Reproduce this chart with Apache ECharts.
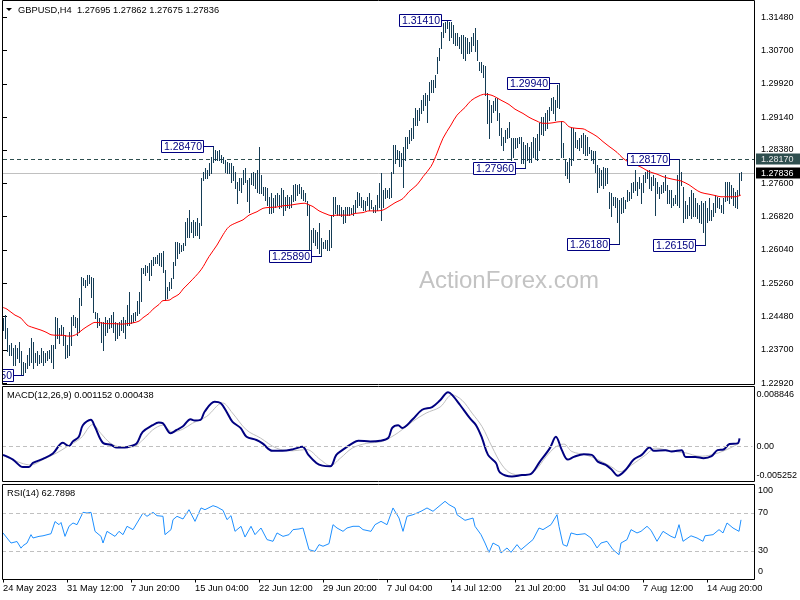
<!DOCTYPE html>
<html><head><meta charset="utf-8">
<script src="https://cdn.jsdelivr.net/npm/echarts@6/dist/echarts.min.js"></script>
<style>html,body{margin:0;padding:0;background:#fff}#c{width:800px;height:600px}</style>
</head><body><div id="c"></div>
<script>
// ---------------- DATA ----------------
const symbolTitle = 'GBPUSD,H4  1.27695 1.27862 1.27675 1.27836';
const macdTitle = 'MACD(12,26,9) 0.001152 0.000438';
const rsiTitle = 'RSI(14) 62.7898';
const watermark = 'ActionForex.com';

const highs = [
1.2444,1.2451,1.2420,1.2381,1.2385,1.2373,1.2381,1.2373,1.2389,1.2366,
1.2342,1.2338,1.2358,1.2373,1.2397,1.2389,1.2362,1.2366,1.2358,1.2373,
1.2366,1.2362,1.2366,1.2370,1.2381,1.2381,1.2447,1.2444,1.2420,1.2428,
1.2424,1.2405,1.2381,1.2412,1.2447,1.2451,1.2447,1.2444,1.2490,1.2541,
1.2537,1.2533,1.2545,1.2545,1.2541,1.2537,1.2459,1.2455,1.2444,1.2436,
1.2436,1.2447,1.2440,1.2444,1.2451,1.2459,1.2436,1.2432,1.2436,1.2440,
1.2447,1.2440,1.2475,1.2506,1.2451,1.2455,1.2459,1.2483,1.2506,1.2561,
1.2561,1.2568,1.2565,1.2572,1.2580,1.2588,1.2588,1.2592,1.2596,1.2596,
1.2600,1.2557,1.2518,1.2529,1.2537,1.2576,1.2623,1.2623,1.2619,1.2615,
1.2619,1.2670,1.2678,1.2697,1.2670,1.2674,1.2670,1.2678,1.2666,1.2771,
1.2787,1.2795,1.2791,1.2806,1.2822,1.2847,1.2838,1.2834,1.2838,1.2826,
1.2822,1.2814,1.2810,1.2806,1.2806,1.2799,1.2787,1.2763,1.2771,1.2771,
1.2791,1.2795,1.2767,1.2771,1.2783,1.2787,1.2783,1.2791,1.2845,1.2779,
1.2752,1.2752,1.2748,1.2728,1.2736,1.2724,1.2732,1.2736,1.2732,1.2748,
1.2744,1.2728,1.2732,1.2728,1.2732,1.2756,1.2759,1.2756,1.2759,1.2752,
1.2744,1.2736,1.2717,1.2709,1.2650,1.2654,1.2650,1.2646,1.2666,1.2631,
1.2623,1.2627,1.2627,1.2650,1.2685,1.2728,1.2728,1.2709,1.2709,1.2705,
1.2697,1.2705,1.2705,1.2705,1.2701,1.2709,1.2721,1.2740,1.2736,1.2728,
1.2721,1.2717,1.2728,1.2736,1.2721,1.2705,1.2709,1.2732,1.2760,1.2783,
1.2744,1.2748,1.2744,1.2748,1.2787,1.2849,1.2849,1.2838,1.2834,1.2830,
1.2845,1.2869,1.2869,1.2884,1.2888,1.2912,1.2935,1.2931,1.2935,1.2954,
1.2966,1.2970,1.2966,1.2997,1.3001,1.3001,1.3013,1.3056,1.3075,1.3114,
1.3134,1.3138,1.3141,1.3138,1.3138,1.3130,1.3111,1.3111,1.3103,1.3107,
1.3107,1.3103,1.3099,1.3091,1.3103,1.3111,1.3122,1.3095,1.3044,1.3044,
1.3036,1.3033,1.2970,1.2954,1.2943,1.2951,1.2958,1.2958,1.2923,1.2888,
1.2869,1.2884,1.2888,1.2904,1.2865,1.2865,1.2865,1.2865,1.2869,1.2869,
1.2857,1.2849,1.2853,1.2845,1.2857,1.2869,1.2865,1.2876,1.2900,1.2915,
1.2915,1.2923,1.2931,1.2939,1.2958,1.2962,1.2954,1.2990,1.2994,1.2906,
1.2853,1.2814,1.2810,1.2818,1.2888,1.2888,1.2880,1.2861,1.2865,1.2873,
1.2877,1.2873,1.2869,1.2845,1.2838,1.2834,1.2834,1.2802,1.2795,1.2791,
1.2798,1.2795,1.2795,1.2740,1.2736,1.2728,1.2728,1.2724,1.2720,1.2724,
1.2728,1.2720,1.2744,1.2740,1.2760,1.2763,1.2791,1.2763,1.2775,1.2760,
1.2779,1.2787,1.2791,1.2791,1.2775,1.2779,1.2771,1.2763,1.2752,1.2756,
1.2763,1.2779,1.2756,1.2744,1.2744,1.2724,1.2732,1.2779,1.2817,1.2787,
1.2752,1.2717,1.2709,1.2728,1.2744,1.2736,1.2724,1.2713,1.2709,1.2717,
1.2713,1.2717,1.2701,1.2724,1.2697,1.2713,1.2732,1.2728,1.2724,1.2709,
1.2724,1.2763,1.2763,1.2763,1.2756,1.2748,1.2740,1.2744,1.2783,1.27862
];
const lows = [
1.2417,1.2397,1.2366,1.2358,1.2358,1.2334,1.2334,1.2350,1.2342,1.2311,
1.2311,1.2319,1.2327,1.2334,1.2342,1.2327,1.2342,1.2334,1.2338,1.2342,
1.2334,1.2342,1.2346,1.2350,1.2342,1.2327,1.2373,1.2397,1.2385,1.2405,
1.2381,1.2350,1.2354,1.2358,1.2381,1.2428,1.2424,1.2405,1.2412,1.2475,
1.2522,1.2518,1.2522,1.2526,1.2494,1.2459,1.2444,1.2424,1.2428,1.2389,
1.2370,1.2405,1.2412,1.2420,1.2424,1.2412,1.2393,1.2397,1.2405,1.2416,
1.2412,1.2397,1.2428,1.2428,1.2432,1.2436,1.2440,1.2451,1.2455,1.2483,
1.2549,1.2545,1.2553,1.2533,1.2545,1.2568,1.2572,1.2572,1.2568,1.2565,
1.2553,1.2487,1.2490,1.2510,1.2514,1.2537,1.2568,1.2584,1.2596,1.2600,
1.2604,1.2615,1.2635,1.2635,1.2646,1.2635,1.2639,1.2639,1.2631,1.2662,
1.2767,1.2771,1.2771,1.2779,1.2783,1.2810,1.2814,1.2814,1.2814,1.2810,
1.2806,1.2787,1.2783,1.2783,1.2763,1.2767,1.2748,1.2713,1.2744,1.2740,
1.2759,1.2763,1.2717,1.2693,1.2759,1.2756,1.2748,1.2740,1.2736,1.2736,
1.2732,1.2721,1.2709,1.2689,1.2689,1.2693,1.2705,1.2709,1.2701,1.2705,
1.2685,1.2697,1.2705,1.2701,1.2705,1.2717,1.2721,1.2732,1.2736,1.2724,
1.2721,1.2717,1.2685,1.2604,1.2604,1.2623,1.2615,1.2607,1.2596,1.2589,
1.2607,1.2607,1.2604,1.2604,1.2611,1.2682,1.2689,1.2685,1.2685,1.2682,
1.2666,1.2670,1.2685,1.2685,1.2689,1.2685,1.2693,1.2705,1.2709,1.2705,
1.2697,1.2697,1.2709,1.2697,1.2701,1.2693,1.2693,1.2697,1.2705,1.2674,
1.2705,1.2724,1.2728,1.2724,1.2728,1.2783,1.2806,1.2818,1.2799,1.2799,
1.2752,1.2814,1.2841,1.2853,1.2861,1.2865,1.2896,1.2896,1.2908,1.2923,
1.2931,1.2943,1.2904,1.2954,1.2974,1.2974,1.2986,1.3017,1.3048,1.3075,
1.3103,1.3114,1.3122,1.3095,1.3103,1.3087,1.3083,1.3083,1.3075,1.3064,
1.3052,1.3048,1.3064,1.3064,1.3068,1.3083,1.3068,1.3048,1.3025,1.3021,
1.3009,1.2966,1.2900,1.2865,1.2904,1.2927,1.2931,1.2908,1.2873,1.2849,
1.2838,1.2857,1.2865,1.2869,1.2814,1.2822,1.2841,1.2845,1.2853,1.2806,
1.2806,1.2796,1.2814,1.2810,1.2810,1.2822,1.2818,1.2814,1.2838,1.2876,
1.2873,1.2884,1.2888,1.2908,1.2931,1.2923,1.2908,1.2939,1.2935,1.2822,
1.2822,1.2779,1.2771,1.2763,1.2802,1.2814,1.2845,1.2841,1.2838,1.2845,
1.2830,1.2826,1.2826,1.2830,1.2814,1.2806,1.2787,1.2740,1.2752,1.2756,
1.2748,1.2756,1.2760,1.2701,1.2682,1.2709,1.2705,1.2670,1.2618,1.2689,
1.2693,1.2701,1.2717,1.2720,1.2724,1.2740,1.2744,1.2732,1.2748,1.2713,
1.2740,1.2763,1.2771,1.2748,1.2744,1.2756,1.2685,1.2736,1.2724,1.2736,
1.2740,1.2744,1.2713,1.2713,1.2705,1.2709,1.2713,1.2709,1.2705,1.2756,
1.2670,1.2678,1.2678,1.2685,1.2678,1.2682,1.2682,1.2678,1.2670,1.2666,
1.2646,1.2615,1.2670,1.2674,1.2674,1.2682,1.2693,1.2705,1.2701,1.2693,
1.2689,1.2717,1.2720,1.2713,1.2724,1.2709,1.2705,1.2701,1.2732,1.27675
];

// moving average (red), sampled [barIndex, value]
const smaPts = [
[0,1.2469],[2,1.2465],[6,1.2451],[9,1.2444],[12,1.2428],[15,1.2422],[19,1.2416],[22,1.2410],[24,1.2405],[27,1.2404],
[30,1.2404],[32,1.2402],[34,1.2402],[37,1.2407],[40,1.2418],[44,1.2430],[46,1.2434],[49,1.2433],[52,1.2431],[56,1.2431],
[59,1.2430],[62,1.2431],[65,1.2433],[68,1.2437],[70,1.2445],[73,1.2455],[75,1.2465],[78,1.2476],[80,1.2485],[83,1.2486],
[85,1.2492],[88,1.2500],[90,1.2512],[93,1.2526],[99,1.2557],[103,1.2588],[107,1.2615],[110,1.2639],[113,1.2658],[117,1.2668],
[120,1.2674],[123,1.2685],[127,1.2693],[130,1.2701],[133,1.2703],[137,1.2704],[140,1.2707],[143,1.2708],[147,1.2711],[151,1.2713],
[152,1.2711],[155,1.2705],[158,1.2695],[162,1.2687],[164,1.2684],[167,1.2685],[170,1.2685],[173,1.2685],[176,1.2689],[180,1.2691],
[183,1.2695],[186,1.2695],[190,1.2697],[193,1.2705],[196,1.2714],[200,1.2724],[203,1.2740],[207,1.2756],[210,1.2775],[214,1.2799],
[217,1.2830],[220,1.2865],[224,1.2896],[227,1.2919],[231,1.2937],[234,1.2953],[238,1.2964],[241,1.2968],[244,1.2966],[246,1.2962],
[249,1.2954],[253,1.2944],[256,1.2933],[260,1.2923],[263,1.2914],[267,1.2905],[270,1.2900],[273,1.2900],[277,1.2903],[280,1.2904],
[283,1.2892],[287,1.2888],[290,1.2887],[293,1.2880],[297,1.2869],[300,1.2857],[303,1.2846],[307,1.2832],[310,1.2818],[313,1.2809],
[317,1.2802],[320,1.2795],[323,1.2787],[327,1.2781],[330,1.2775],[333,1.2771],[337,1.2767],[339,1.2765],[343,1.2756],[346,1.2746],
[349,1.2738],[353,1.2734],[356,1.2731],[359,1.2728],[363,1.2728],[366,1.2728],[369,1.2732]
];

const macdPts = [
[0,-0.0013],[5,-0.0020],[10,-0.0031],[13,-0.0031],[15,-0.0025],[20,-0.0019],[25,-0.0011],[30,0.0005],[33,0.0000],[35,0.0007],
[38,0.0014],[40,0.0031],[44,0.0039],[46,0.0029],[50,0.0005],[54,0.0002],[57,-0.0002],[61,-0.0002],[65,0.0001],[67,0.0004],
[70,0.0021],[75,0.0031],[78,0.0035],[80,0.0034],[84,0.0019],[87,0.0024],[90,0.0029],[94,0.0040],[96,0.0038],[99,0.0039],
[101,0.0051],[106,0.0066],[109,0.0064],[112,0.0051],[115,0.0036],[119,0.0027],[122,0.0014],[127,0.0009],[130,0.0004],[135,-0.0007],
[140,-0.0007],[145,-0.0005],[150,-0.0001],[153,-0.0013],[157,-0.0025],[160,-0.0029],[164,-0.0030],[167,-0.0013],[170,-0.0006],[175,0.0004],
[178,0.0008],[184,0.0007],[189,0.0008],[193,0.0012],[195,0.0027],[198,0.0031],[200,0.0027],[205,0.0039],[210,0.0054],[215,0.0058],
[219,0.0068],[223,0.0080],[225,0.0076],[229,0.0061],[234,0.0041],[237,0.0031],[240,0.0012],[243,-0.0013],[247,-0.0025],[249,-0.0039],
[255,-0.0045],[260,-0.0043],[264,-0.0042],[269,-0.0023],[274,-0.0003],[277,0.0014],[280,-0.0006],[283,-0.0020],[286,-0.0016],[291,-0.0012],
[295,-0.0013],[298,-0.0023],[302,-0.0028],[305,-0.0035],[308,-0.0044],[312,-0.0035],[316,-0.0020],[320,-0.0013],[324,-0.0002],[326,-0.0007],
[332,-0.0006],[335,-0.0008],[340,-0.0006],[342,-0.0016],[347,-0.0016],[351,-0.0018],[355,-0.0015],[358,-0.0006],[361,-0.0005],[364,0.0003],
[368,0.0004],[369,0.001152]
];
const signalPts = [
[0,-0.0014],[9,-0.0025],[14,-0.0028],[20,-0.0020],[27,-0.0010],[32,-0.0001],[39,0.0012],[45,0.0032],[49,0.0019],[54,0.0004],
[59,-0.0001],[65,-0.0001],[70,0.0009],[75,0.0024],[80,0.0031],[85,0.0021],[90,0.0025],[95,0.0034],[102,0.0044],[110,0.0064],
[115,0.0049],[122,0.0024],[129,0.0012],[137,-0.0003],[145,-0.0007],[152,-0.0005],[159,-0.0020],[164,-0.0029],[169,-0.0018],[175,-0.0003],
[182,0.0004],[190,0.0007],[198,0.0020],[205,0.0036],[212,0.0049],[219,0.0058],[225,0.0076],[230,0.0068],[235,0.0049],[240,0.0029],
[245,-0.0001],[250,-0.0028],[255,-0.0041],[262,-0.0043],[267,-0.0035],[272,-0.0016],[277,-0.0001],[281,0.0003],[285,-0.0008],[292,-0.0013],
[298,-0.0020],[305,-0.0031],[309,-0.0038],[315,-0.0028],[322,-0.0013],[327,-0.0003],[334,-0.0007],[342,-0.0010],[349,-0.0015],[355,-0.0013],
[362,-0.0006],[369,0.000438]
];
const rsiPts = [
[0,49],[2,43.7],[4,38.4],[5,37.4],[7,40],[9,33],[10,35.6],[12,38.4],[14,47.2],[15,43.7],[18,45.4],[20,46],[24,48.2],[26,61],[28,57.7],
[29,60],[31,45.4],[33,56],[35,59.5],[37,57.7],[40,70.7],[42,70],[44,70.7],[46,50.7],[49,45.4],[50,38.4],[52,50.7],[56,45.4],[58,50.7],
[60,47.2],[62,56],[65,52.5],[67,59.5],[70,70],[72,66.5],[75,70.7],[77,67.2],[80,66.5],[81,47.2],[84,52.5],[85,63],[87,66.5],[90,63.7],
[93,73.5],[96,61.2],[99,75.3],[101,73.5],[105,77.7],[107,76.3],[110,72.8],[112,63],[114,67.2],[116,50.7],[119,56],[121,44.7],[124,56],
[126,47.2],[129,54.2],[132,42],[135,40.2],[137,49],[140,45.4],[143,47.2],[145,52.5],[148,53.2],[150,54.2],[153,31.4],[156,29.6],[158,36.7],
[160,35],[163,37.7],[165,57.7],[167,54.2],[170,50.7],[172,54.2],[175,56],[178,56],[180,52.5],[184,50.7],[186,57.7],[189,61.2],[192,57.7],
[195,75.3],[198,64.7],[199,63],[200,50.7],[202,66.5],[205,68.2],[209,71.8],[212,75.3],[215,71.8],[217,75.3],[221,82.3],[223,78.8],[226,75.3],
[227,68.2],[231,62.3],[235,64.7],[236,56],[239,47.2],[241,38.4],[243,28.6],[245,38.4],[248,35],[249,27.9],[252,33.2],[254,28.6],[257,36.7],
[259,31.4],[262,36.7],[265,42],[268,54.2],[270,52.5],[274,57.7],[277,68.2],[278,56],[280,36.7],[282,35],[284,49],[287,47.2],[291,48.2],
[294,43.7],[297,33.2],[299,38.4],[302,40.2],[305,31.4],[308,26.1],[309,38.4],[312,42],[314,52.5],[317,49],[319,50.7],[322,56],[324,51.8],
[327,40.2],[330,50.7],[334,45.4],[336,43.7],[338,57.7],[340,40.2],[344,46],[347,43.7],[350,40.2],[351,46],[355,47.2],[358,52.5],[360,49],
[362,59.5],[365,54.2],[368,50.7],[369,62.79]
];

const priceTickLabels = ['1.31480','1.30700','1.29920','1.29140','1.28380','1.27600','1.26820','1.26040','1.25260','1.24480','1.23700','1.22920'];
const macdTickLabels = ['0.008846','0.00','-0.005252'];
const rsiTickLabels = ['100','70','30','0'];
const rsiLevels = [70, 30];
const timeLabels = ['24 May 2023','31 May 12:00','7 Jun 20:00','15 Jun 04:00','22 Jun 12:00','29 Jun 20:00','7 Jul 04:00','14 Jul 12:00','21 Jul 20:00','31 Jul 04:00','7 Aug 12:00','14 Aug 20:00'];
const timeLabelBars = [0,32,64,96,128,160,192,224,256,288,320,352];

// swing high/low labels
const swingBars   = [10, 105, 159, 224, 261, 278, 308, 338, 351];
const swingPrices = [1.2310, 1.2847, 1.2589, 1.3141, 1.2796, 1.2994, 1.2618, 1.2817, 1.2615];
const swingTexts  = ['1.23050','1.28470','1.25890','1.31410','1.27960','1.29940','1.26180','1.28170','1.26150'];

const resistLevel = 1.28170;
const lastClose = 1.27836;

// ---------------- CHART ----------------
const FONT = '"Liberation Sans", Arial, sans-serif';
const BAR_COLOR = '#143c55';
const chart = echarts.init(document.getElementById('c'), null, {renderer: 'canvas'});
const priceTickValues = priceTickLabels.map(Number);
const nearestLabel = (v) => { let b = 0; for (let k = 1; k < priceTickValues.length; k++) if (Math.abs(priceTickValues[k]-v) < Math.abs(priceTickValues[b]-v)) b = k; return priceTickLabels[b]; };

const PMAX = 1.318849, PMIN = 1.228985;
const macdLabelAt = [0.00773, 0, -0.00441];
const rsiLabelAt = [93.5, 70, 30, 8.2];

const xCommon = {type: 'value', min: -0.5, max: 375.5, show: false};

const option = {
  animation: false,
  backgroundColor: '#fff',
  grid: [
    {left: 2, top: 0, width: 752, height: 384},
    {left: 2, top: 386.5, width: 752, height: 95},
    {left: 2, top: 484.5, width: 752, height: 95}
  ],
  xAxis: [
    Object.assign({gridIndex: 0}, xCommon),
    Object.assign({gridIndex: 1}, xCommon),
    {gridIndex: 2, type: 'value', min: -0.5, max: 375.5, show: true,
     axisLine: {show: false}, splitLine: {show: false},
     axisTick: {show: true, customValues: timeLabelBars, length: 3, lineStyle: {color: '#000'}},
     axisLabel: {customValues: timeLabelBars, align: 'left', margin: 4, color: '#000', fontFamily: FONT, fontSize: 9.3,
       formatter: (v) => timeLabels[timeLabelBars.indexOf(Math.round(v))] || ''}}
  ],
  yAxis: [
    {gridIndex: 0, type: 'value', position: 'right', min: PMIN, max: PMAX,
     axisLine: {show: false}, splitLine: {show: false},
     axisTick: {show: true, customValues: priceTickValues, length: 4, lineStyle: {color: '#000'}},
     axisLabel: {customValues: priceTickValues, margin: 7, color: '#000', fontFamily: FONT, fontSize: 9, formatter: nearestLabel}},
    {gridIndex: 1, type: 'value', position: 'right', min: -0.005252, max: 0.008846,
     axisLine: {show: false}, splitLine: {show: false}, axisTick: {show: false},
     axisLabel: {customValues: macdLabelAt, margin: 4, color: '#000', fontFamily: FONT, fontSize: 9,
       formatter: (v) => macdTickLabels[macdLabelAt.indexOf(v)] ?? ''}},
    {gridIndex: 2, type: 'value', position: 'right', min: 0, max: 100,
     axisLine: {show: false}, splitLine: {show: false}, axisTick: {show: false},
     axisLabel: {customValues: rsiLabelAt, margin: 4, color: '#000', fontFamily: FONT, fontSize: 9,
       formatter: (v) => rsiTickLabels[rsiLabelAt.indexOf(v)] ?? ''}}
  ],
  series: [
    {
      type: 'custom', xAxisIndex: 0, yAxisIndex: 0, clip: true, z: 3,
      data: highs.map((h, i) => [i, h, lows[i]]),
      encode: {x: 0, y: [1, 2]},
      renderItem: (params, api) => {
        const i = api.value(0);
        const p1 = api.coord([i, api.value(1)]);
        const p2 = api.coord([i, api.value(2)]);
        const x = Math.floor(p1[0]) + 0.5;
        let y1 = Math.round(p1[1]), y2 = Math.round(p2[1]) + 1;
        if (y2 - y1 < 2) y2 = y1 + 2;
        return {type: 'line', shape: {x1: x, y1: y1, x2: x, y2: y2}, style: {stroke: BAR_COLOR, lineWidth: 1}};
      }
    },
    {
      type: 'line', xAxisIndex: 0, yAxisIndex: 0, data: smaPts, smooth: 0.35, showSymbol: false, z: 4,
      lineStyle: {color: '#ff0000', width: 1}
    },
    {
      type: 'custom', xAxisIndex: 0, yAxisIndex: 0, clip: true, z: 6,
      data: swingBars.map((b, k) => [b, swingPrices[k], k]),
      encode: {x: 0, y: 1},
      renderItem: (params, api) => {
        const k = api.value(2);
        const p = api.coord([api.value(0), api.value(1)]);
        const bx = Math.floor(p[0]) + 0.5;
        const cy = Math.round(p[1]) + 0.5;
        const w = 42, h = 12, right = bx - 10, left = right - w;
        return {type: 'group', children: [
          {type: 'line', shape: {x1: right, y1: cy, x2: bx, y2: cy}, style: {stroke: '#000080', lineWidth: 1}},
          {type: 'rect', shape: {x: left, y: cy - 6, width: w, height: h}, style: {fill: '#fff', stroke: '#000080', lineWidth: 1}},
          {type: 'text', x: left + w / 2 + 0.5, y: cy + 0.5, style: {text: swingTexts[k], fill: '#000080', font: '10.5px ' + FONT, align: 'center', verticalAlign: 'middle'}}
        ]};
      }
    },
    {
      type: 'line', xAxisIndex: 1, yAxisIndex: 1, data: signalPts, smooth: 0.35, showSymbol: false, z: 3,
      lineStyle: {color: '#c0c0c0', width: 1},
      markLine: {silent: true, symbol: 'none', animation: false, label: {show: false},
        data: [{yAxis: 0, lineStyle: {color: '#c0c0c0', type: [4, 3], width: 1}}]}
    },
    {
      type: 'line', xAxisIndex: 1, yAxisIndex: 1, data: macdPts, smooth: 0.35, showSymbol: false, z: 4,
      lineStyle: {color: '#000080', width: 2}
    },
    {
      type: 'line', xAxisIndex: 2, yAxisIndex: 2, data: rsiPts, showSymbol: false, z: 4,
      lineStyle: {color: '#1e90ff', width: 1},
      markLine: {silent: true, symbol: 'none', animation: false, label: {show: false},
        data: rsiLevels.map(v => ({yAxis: v, lineStyle: {color: '#c0c0c0', type: [4, 3], width: 1}}))}
    }
  ]
};
chart.setOption(option);

const yR = Math.round(chart.convertToPixel({yAxisIndex: 0}, resistLevel));
const yC = Math.round(chart.convertToPixel({yAxisIndex: 0}, lastClose));
const wm = chart.convertToPixel({gridIndex: 0}, [253, 1.2530]);

const frames = [[0.5, 384], [386.5, 95], [484.5, 95]].map(([t, h]) => ({
  type: 'rect', silent: true, z: 100, shape: {x: 2.5, y: t, width: 752, height: h},
  style: {fill: null, stroke: '#000', lineWidth: 1}
}));

chart.setOption({graphic: {elements: [
  {type: 'line', silent: true, z: 0, shape: {x1: 3, y1: yC + 0.5, x2: 754, y2: yC + 0.5}, style: {stroke: '#c0c0c0', lineWidth: 1}},
  {type: 'line', silent: true, z: 0, shape: {x1: 3, y1: yR + 0.5, x2: 754, y2: yR + 0.5}, style: {stroke: '#2f4f4f', lineWidth: 1, lineDash: [4, 3]}},
  ...frames,
  {type: 'text', silent: true, z: 0, x: wm[0], y: wm[1], style: {text: watermark, fill: '#c3c3c3', font: '24px ' + FONT, align: 'center', verticalAlign: 'middle'}},
  {type: 'polygon', silent: true, z: 101, shape: {points: [[6, 8], [12, 8], [9, 11]]}, style: {fill: '#000'}},
  {type: 'text', silent: true, z: 101, x: 18, y: 10.5, style: {text: symbolTitle, fill: '#000', font: '9.3px ' + FONT, verticalAlign: 'middle'}},
  {type: 'text', silent: true, z: 101, x: 7, y: 395, style: {text: macdTitle, fill: '#000', font: '9.3px ' + FONT, verticalAlign: 'middle'}},
  {type: 'text', silent: true, z: 101, x: 7, y: 493, style: {text: rsiTitle, fill: '#000', font: '9.3px ' + FONT, verticalAlign: 'middle'}},
  {type: 'rect', silent: true, z: 101, shape: {x: 756, y: yR - 5.5, width: 44, height: 11}, style: {fill: '#2f4f4f'}},
  {type: 'text', silent: true, z: 102, x: 761, y: yR + 0.5, style: {text: resistLevel.toFixed(5), fill: '#e8e8e8', font: '9px ' + FONT, verticalAlign: 'middle'}},
  {type: 'rect', silent: true, z: 101, shape: {x: 756, y: yC - 5.5, width: 44, height: 11}, style: {fill: '#000'}},
  {type: 'text', silent: true, z: 102, x: 761, y: yC + 0.5, style: {text: lastClose.toFixed(5), fill: '#fff', font: '9px ' + FONT, verticalAlign: 'middle'}}
]}});
</script>
</body></html>
